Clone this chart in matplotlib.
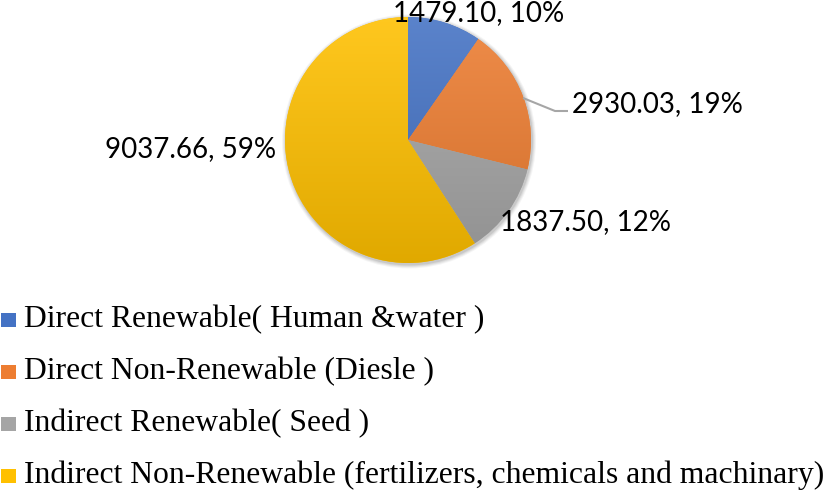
import numpy as np
import matplotlib
matplotlib.use("Agg")
import matplotlib.pyplot as plt
from matplotlib.patches import Rectangle, Circle
from matplotlib.colors import LinearSegmentedColormap, to_rgb

# data
categories = [
    "Direct Renewable( Human &water )",
    "Direct Non-Renewable (Diesle )",
    "Indirect Renewable( Seed )",
    "Indirect Non-Renewable (fertilizers, chemicals and machinary)",
]
energy = [1479.10, 2930.03, 1837.50, 9037.66]
colors = ["#4472C4", "#ED7D31", "#A5A5A5", "#FFC000"]

W, H = 826, 493


def shade(c, f):
    r = np.array(to_rgb(c))
    if f >= 0:
        return tuple(r + (1 - r) * f)
    return tuple(r * (1 + f))


fig = plt.figure(figsize=(W / 100, H / 100), dpi=100)
ax = fig.add_axes([0, 0, 1, 1])

cx, cy, rad = 408, H - 140, 123

# soft shadow behind the pie
for i, a in enumerate([0.04, 0.05, 0.06, 0.08]):
    ax.add_patch(Circle((cx + 1, cy - 1.5), rad + 4 - i, color="#000000",
                        alpha=a, lw=0, zorder=0))

wedges, _ = ax.pie(energy, colors=colors, startangle=90, counterclock=False,
                   center=(cx, cy), radius=rad, frame=True,
                   wedgeprops=dict(linewidth=0))

# vertical gradient inside each slice (light top -> darker bottom)
grad = np.linspace(0, 1, 256).reshape(-1, 1)
for w, c in zip(wedges, colors):
    cmap = LinearSegmentedColormap.from_list("g", [shade(c, -0.12), shade(c, 0.12)])
    im = ax.imshow(grad, cmap=cmap, origin="lower", aspect="auto",
                   extent=[cx - rad, cx + rad, cy - rad, cy + rad], zorder=1.5)
    im.set_clip_path(w)

# data labels
total = sum(energy)
labels = [f"{v:.2f}, {v / total * 100:.0f}%" for v in energy]
label_pos = [(393, 21), (572, 112), (500, 230), (105, 157)]
for txt, (px, py) in zip(labels, label_pos):
    ax.text(px, H - py, txt, fontsize=20, family=["Lato", "DejaVu Sans"],
            ha="left", va="baseline", color="#000000", zorder=5)

# leader line for the Diesel slice
ax.plot([523, 555, 568], [H - 98, H - 111, H - 111], color="#A6A6A6",
        lw=1.5, zorder=4, solid_capstyle="butt")

# legend below the pie
baselines = [327.5, 379.5, 431.5, 483.5]
for name, c, b in zip(categories, colors, baselines):
    ax.add_patch(Rectangle((1, H - b + 0.5), 15, 14, color=c, lw=0, zorder=5))
    ax.text(24, H - b, name, fontsize=22.8, family=["Liberation Serif", "DejaVu Serif"],
            ha="left", va="baseline", color="#000000", zorder=5)

ax.set_xlim(0, W)
ax.set_ylim(0, H)
ax.set_aspect("auto")
ax.axis("off")

fig.savefig("out.png", dpi=100)
